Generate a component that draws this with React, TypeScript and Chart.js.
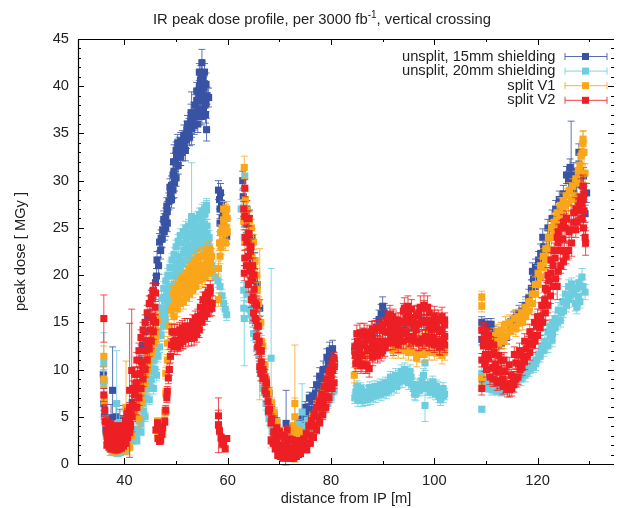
import React, { useEffect, useRef } from "react";
import { Chart, registerables } from "chart.js";

Chart.register(...registerables);

const titleParts = ["IR peak dose profile, per 3000 fb", "-1", ", vertical crossing"];
const xTitle = "distance from IP [m]";
const yTitle = "peak dose [ MGy ]";
const seriesNames = ["unsplit, 15mm shielding", "unsplit, 20mm shielding", "split V1", "split V2"];
const seriesColors = ["#3953a4", "#6dcddf", "#faa61a", "#ed1f24"];
const typicalError = [0.9, 0.7, 0.8, 0.8];

// rows: distance [m], dose [MGy], error [MGy] (error omitted = the series' typical one)
const bluePts = [
[35.9,9.5,.8],[36,8.8,.8],[36,6.4,.7],[36.1,5,.6],[36.4,3.6,.5],[36.7,2.6,.5],[37.1,2.2,.4],[37.4,4.9,1.4],[37.7,7.8,4.6],[38,3,.5],[38.4,5,1.5],[38.7,2,.4],[39.1,4.4,1.4],[39.4,2.2,.4],[39.8,4.8,1.4],[40.2,3.2,.5],[40.6,4.1,.6],[41,5,.6],[41.5,6.5,.7],[42,8,.7],[42.5,9.5,.7],[43,11,.7],[43.5,12.6,.8],[44,14,.8],[44.5,15.5,.8],[45,17,.8],[45.5,18.3,.8],[46,19.2,.8],[46.2,19.9,.8],[46.3,21.6,.9],[46.8,23.5,.9],[47.1,23.9,.9],[47.4,24.8,.9],[47.7,25.6,.9],[48,26.2,.9],[48.3,26.8,1],[48.6,27.8,.9],[48.9,28.6,1],[49.1,29.5,1],[49.4,30.6,1.1],[49.6,31,2.8],[49.9,32,1],[50.1,32.5,1],[50.4,33.3,1.1],[50.6,33.6,1],[50.9,32.6,1],[51.2,34.2,1.1],[51.5,34.8,1.1],[51.8,33.2,1.1],[52.1,35.3,1],[52.5,35.4,1.2],[52.8,36.1,1.1],[53,36.6,2.8],[53.4,37.2,1.1],[53.7,38,1.1],[54,38.5,1.2],[54.3,37.6,1.1],[54.5,40,1.2],[54.7,39.2,1.2],[54.8,41,1.2],[55,41.4,1.2],[55,42.5,1.4],[55.2,38.5,1.1],[55.4,39.8,1.2],[55.6,38,1.1],[55.8,40.2,1.2],[55.9,35.4,1.2],[56.3,38.8,1],[58.2,29,1],[58.4,28,1],[58.5,27,1],[58.6,28.7,1],[58.9,26,.9],[59.2,25.2,.8],[59.5,24.5,.8],[59.8,24.1,.8],[62.9,30,1],[63,28.3,.9],[63.2,26,.9],[63.6,25.4,.9],[64,24.5,.8],[64.4,23,.8],[64.8,21.5,.8],[65.2,19.5,.7],[65.6,17,.7],[66,15,.7],[66.5,12.5,.6],[67,10,.6],[67.5,8.6,.6],[68,7.5,.6],[68.5,6,.5],[69,5,.5],[69.5,4.4,.5],[70,3.4,.4],[70.5,2.6,.4],[71.3,4.3,3.5],[72,2,.4],[72.5,2.4,.4],[73,2.8,.4],[73.5,3,.4],[74,3.5,.4],[74.4,3.7,.4],[74.8,4.2,.5],[75.3,5.2,.5],[75.8,5.8,.5],[76.3,6.6,.6],[77,7.5,.6],[77.5,7.9,.6],[78,8.6,.6],[78.5,9.1,.6],[79,10,.7],[79.5,10.7,.7],[80,11.8,.7],[80.4,11.3,.6],[80.7,10.6,.6],
[84.6,12,.8],[85.2,13,.8],[86,12.6,.8],[87,13.2,.9],[88,13.4,.9],[88.8,14.5,.9],[89.3,15.3,1],[89.7,15.9,1],[90,16.7,1],[90.3,16,1],[90.7,15.6,.9],[91.1,15.2,.9],[91.6,14,.9],[92.1,12.3,.8],[92.6,13.5,.9],[93.4,13.2,.9],[94.2,14.2,.9],[95,15.6,1],[96,14.4,.9],[97,15.7,1],[98,15.2,1],[99,14,.9],[100,14.6,.9],[101,14.2,.9],[102,13.5,.9],
[109.2,15,.6],[109.2,13.2,.6],[109.7,14,.6],[110.2,14.8,.6],[110.7,14.4,.6],[111,14.8,.6],[111.5,14,.6],[112,13,.6],[113,12.8,.6],[114,13.4,.7],[114.8,14.6,.8],[115.4,15.3,.8],[115.8,15.5,.8],[116.4,15.9,.9],[117,16.2,.9],[117.7,16.8,.9],[118.3,17.6,.9],[118.8,18.6,.9],[119.2,19.6,1],[119.6,18.8,1],[120,20.2,1],[120.6,22.3,1],[121.2,23,1],[121.8,22.6,1],[122.3,24,1],[123,25,1],[123.8,25.6,1],[124.5,26.6,1],[125.2,27.5,1],[126,30,1],[126.5,30.5,5.8],[126.9,29,1],[127.5,29.6,1],[128,31,1],[128.6,29.5,1],[129.5,28.7,1],
];
const blueExtra = [
[46.6,21],[47,22.6],[47.3,23.8],[47.7,24.6],[48,25],[48.3,25.5],[47.6,25.9],[48.2,27.3],[48.8,29.3],[49.1,28],[49.4,29],[49.7,29.8],[50,30.3],[49.5,32],[50,33.2],[50.4,31.6],[50.8,32.5],[50.3,34],[50.9,34.2],[51.2,33],[51.6,33.8],[52,34.3],[52.2,36],[52.6,34.6],[53,35.5],[53.3,36.2],[52.9,37.2],[53.5,35.8],[53.8,36.8],[54.2,36],[54,39.5],[54.4,39],[54.6,37.5],[55,36.8],[55.3,37.5],[55.7,37],[54.5,41.5],[55.2,40.8],[55.5,41.5],[55.8,38.2],[56,39],[55,39.6],[54.7,40.6],
[76.5,7.2],[77.2,8.4],[77.8,9.3],[78.5,10],[79.2,11.3],[79.7,12],[80,11],[80.3,12.2],[58.5,25.5],[58.8,27.6],[59.2,26.8],[63.7,27],[64.2,26],[64.7,24],[65.2,21.5],[65.7,19],[66.2,16.5],
[119,20.4],[119.6,20.8],[120.2,21.6],[121,24],[122,25],[122.8,26],[123.5,27],[124.2,28],[125,28.6],[125.6,30.6],[126.3,31.4],[127,31],[128,33],[128.9,30.5],[129.2,26.5],
[73,3.5,.5],[73.8,4.5,.5],[74.5,5,.5],[75,6,.6],[75.8,7,.6],
];

const cyanPts = [
[36,10.7,3.2],[36,8.4,1.6],[36.1,7,.7],[36.3,4.6,.5],[36.5,3,.4],[36.8,2.2,.4],[37.2,1.6,.3],[37.6,1.3,.3],[38,1.2,.3],[38.2,3.4,1.2],[38.5,6.4,5.6],[38.7,1.1,.3],[39,4.4,1.2],[39.2,1.2,.3],[39.6,3.8,1.2],[39.9,1.3,.3],[40.4,1.5,.3],[41,1.9,.3],[41.6,2.5,.4],[42.2,3.1,.4],[42.7,3.6,.4],[43.2,4.3,.4],[43.7,5.6,.5],[44.2,7,.5],[44.8,8.6,.5],[45.2,9.8,.6],[45.7,11,.6],[46.1,12,.6],[46.6,14,.7],[47,15,.7],[47.3,16,.7],[47.8,17.3,.7],[48.2,18,.8],[48.6,18.8,.8],[49.1,19.9,.8],[49.6,20.8,.8],[50,21.3,.8],[50.5,22,.8],[51.1,23.4,.9],[51.6,22.4,.8],[52,23.7,.9],[52.5,23,.8],[53,26.2,5.7],[53.2,24.2,.8],[53.7,24.8,.9],[54.1,23.8,.8],[54.5,25.2,.9],[55,25.8,.9],[55.4,24.6,.9],[55.6,26.5,1],[55.9,26.9,1],[55.9,23.9,.8],[56.3,22.8,.8],[56.7,21.5,.8],[57.1,20.6,.7],[57.6,19.8,.7],[58.1,19.4,.7],[58.5,18.8,.7],[58.9,17.8,.7],[59.2,17,.6],[59.5,16.4,.6],[59.8,15.8,.6],
[62.6,27,1],[63.3,30.5,1.2],[63.2,24,.8],[63.1,18.4,.8],[63.1,16.5,.8],[63.2,15.4,5],[63.8,18,.8],[64.2,16.4,.7],[64.8,15.2,.7],[65.4,13.5,.6],[66,11.5,.6],[66.6,9.5,.6],[67.2,7.6,.5],[67.8,5.6,.5],[68.4,11.2,9.5],[68.4,4.2,.4],[69,3,.4],[69.6,2.2,.3],[70.2,1.7,.3],[71,1.4,.3],[71.8,1.3,.3],[72.6,1.6,.3],[73.4,2.2,.4],[74,2.8,.4],[74.4,5.5,3],[75,3,.4],[75.8,3.7,.4],[76.5,4.1,.4],[77.2,4.8,.5],[78,5.4,.5],[78.7,5.9,.5],[79.4,6.4,.5],[80,7,.5],[80.6,7.8,.5],
[84.6,7,.6],[85,8.2,.6],[85.3,7,.6],[85.7,8,.6],[86.1,6.7,.6],[86.5,7.6,.6],[87,6.8,.6],[87.5,8.1,.6],[88,7.2,.6],[88.5,8.2,.6],[89,7.5,.6],[89.5,8.4,.6],[90,7.6,.6],[90.5,8.6,.6],[91,7.8,.6],[91.5,9.2,.6],[92,8.2,.6],[92.5,9.4,.7],[93,8.6,.6],[93.6,9.8,.7],[94.3,10,.7],[94.8,9.1,.7],[95.3,9.8,.7],[95.8,8.4,.7],[96.2,7.4,.6],[96.7,8.4,.6],[97.2,7.8,.6],[97.6,8.8,.6],[98.2,10.7,.8],[98.2,6.2,1.7],[98.7,8.4,.6],[99.2,7.6,.6],[99.7,8.7,.6],[100.2,7.4,.6],[100.7,8,.7],[101.2,6.8,.6],[101.7,8,.6],[102,7.4,.6],
[109.2,9.6,.6],[109.2,5.8,.3],[109.3,8.4,.5],[109.7,8.8,.5],[110,8.2,.4],[110.6,8,.4],[111.2,7.9,.4],[112,7.7,.4],[113,7.6,.4],[114,7.7,.4],[115,8,.5],[115.6,8.6,.5],[116.4,9.2,.5],[117.2,9.4,.5],[118,9.8,.5],[118.6,10.1,.5],[119.2,10.3,.6],[119.8,11,.6],[120.5,11.4,.6],[121.2,12,.6],[122,12.5,.7],[122.8,13.1,.7],[122.9,15,.7],[123.4,15.4,.7],[124,16.3,.8],[124.6,16,.8],[125.4,18,.8],[126,17.4,.8],[126.8,18.6,.8],[127.3,17,.8],[127.9,17.7,.9],[128.4,18.8,.8],[128.6,19.8,.9],[129.2,18.2,.8],
];
const cyanExtra = [
[44.3,9],[44.8,10.4],[45.2,11.4],[45.6,12.8],[46,14],[46.4,15.5],[46.8,16.5],[47.2,17.6],[47.6,18.6],[48,19.4],[48.4,20],[48.8,20.8],[49.2,21.6],[49.6,22.2],[50,23],[50.4,23.6],[50.8,24.2],[47.9,15.2],[48.4,16.6],[48.9,17.4],[49.3,18.3],[49.8,19],[50.3,19.8],[50.8,20.5],[51.3,21.2],[51.8,21.5],[52.3,21.5],[52.8,21.7],[51.4,24.6],[51.9,25],[52.4,25.2],[53,25.6],[53.5,25.4],[54,26],[54.5,26.4],[55,26.8],[55.5,27],[55.9,27.4],[53.4,22.6],[54,22.8],[54.6,23],[55.2,23.2],[55.7,22.8],[52.2,24.2],[52.8,24.4],[53.2,23.2],[54.3,24.5],[54.8,24.4],
[64.5,15.8],[65,13.8],[65.6,12.2],[66.2,10],[66.8,8],[67.4,6.4],[68,4.8],[68.6,3.4],
[84.8,7.6],[85.2,6.8],[85.6,7.2],[86,7.7],[86.4,6.9],[86.8,7.2],[87.2,7.6],[87.7,7],[88.2,7.7],[88.7,7.2],[89.2,7.8],[89.7,7.4],[90.2,8.2],[90.7,7.6],[91.2,8.4],[91.7,8],[92.2,8.8],[92.7,8.2],[93.2,9.2],[93.8,8.8],[94.2,9.4],[94.6,9.6],[95,8.6],[95.5,9.2],[96,8],[96.4,7.4],[96.9,8],[97.4,8.4],[97.9,9.4],[98.4,8],[98.9,8],[99.4,8.2],[99.9,8],[100.4,8.2],[100.9,7.2],[101.4,7.4],[101.8,7.2],
[110.2,8.8],[110.6,8.4],[111,8],[111.6,8.4],[112.4,8.2],[113.2,8.4],[114,8.2],[114.8,8.4],[115.4,8.4],[116,8.8],[116.8,9],[117.6,9.4],[118.4,10],[119,10.6],[119.6,10.6],[120.2,11.6],[120.8,12.4],[121.4,13],[122,14],[122.4,13.6],[122.4,14.6],[122.9,13.8],[123.4,14.4],[123.9,15],[124.4,15.2],[124.9,17.2],[125,16.2],[125.6,16.8],[126,18.8],[126.3,17.8],[126.6,19],[127,18],[127.6,18.6],[128,19.2],[128.8,18.8],[128.2,17.2],[127.6,16.6],
[42,3.6,.4],[42.4,2.5,.4],[42.8,4.6,.4],[43.2,3.4,.4],[43.6,6.4,.5],[44,5,.5],[44.4,8,.5],[44.8,6.8,.5],[45.2,9,.6],[45.6,8,.6],[45.9,10,.6],[46.2,9.4,.6],[46.5,11.4,.6],[46.8,12.4,.6],[47.1,13.6,.6],[47.5,14.6,.6],[47.8,15.8,.7],[48.2,16.4,.7],[48.4,18.4,.7],[43,6.5,.5],[43.5,7.5,.5],[44,8.6,.5],
[49.5,20],[50,20.4],[50.5,20.8],[51,21.6],[51.5,22.6],[52,22.8],[52.5,22.2],[53,22.6],[53.5,23.6],[54,24],[54.5,23.8],[55,24.4],[55.5,25.4],[56,25.2],[56,24.4],[56.2,23.4],[47.6,15.6],[48.2,16.8],[48.8,18.4],[49.2,18.6],[56.4,24],[56.6,22.6],[56.9,21],
[73.6,4.2,.5],[74.2,4,.5],[74.8,3.8,.5],[75.4,4.6,.5],
];

const orangePts = [
[36,11.4,1.1],[36,9,.8],[36.1,6.6,.7],[36.2,4.6,.5],[36.5,3,.4],[36.8,2.2,.4],[37.2,1.6,.7],[37.7,1.4,.3],[38.2,1.3,.3],[38.7,1.4,.3],[39.2,1.5,.3],[39.7,1.6,.3],[40.3,6,4.9],[40.5,1.7,.7],[41,1.8,.4],[41.5,3,.4],[42.2,5,.5],[42.8,6.5,.5],[43.4,8.6,.6],[44.2,11,.6],[44.8,12.2,.7],[45.3,13.2,.7],[45.8,14.2,.7],[46,15.6,.7],[46.4,4.5,.4],[46.5,3,.4],[47,2.4,.3],[47.4,3.2,.4],[47.8,5.5,.5],[48,7.5,.5],[48,9.6,.6],[48.3,11,.6],[48.3,12.8,.7],[48.6,14.6,.7],[49,16.3,.7],[49.4,16.6,.8],[49.8,17.1,.8],[50.4,17.6,.8],[51.1,18.1,.8],[51.6,18.4,.8],[52.2,19,.8],[52.8,19.5,.8],[53.4,19.9,.8],[54,20.3,.8],[54.5,20.6,.8],[55,20.9,.8],[55.5,21,.8],[56,21.4,.8],[56.4,21.6,.8],[56.9,22,.8],[58.2,20.7,.8],[58.2,17.4,.7],[58.4,23.4,.8],[58.6,24.5,.8],[58.9,25,.9],[59.2,25.8,.9],[59.4,24.4,.9],[59.6,26.6,.9],[59.6,23.4,.8],
[63.2,31.4,1.2],[63.4,28,.9],[63.7,26.9,.9],[63.1,25.7,.9],[63.3,23.5,.8],[64.2,25.8,.9],[64.6,25,.9],[65,23.5,.8],[65.3,21.5,.8],[65.7,18.5,.7],[66.2,14.8,8],[66.5,13,.6],[67,10.5,.6],[67.5,9,.6],[68,7.5,.5],[68.5,6.5,.5],[69,5.5,.5],[69.5,4.4,.4],[70,3.5,.4],[70.5,2.7,.4],[71,2.1,.3],[71.5,1.8,.3],[72,2,.3],[72.5,2.4,.4],[73,6.4,6.2],[73,5,2],[73,3,.4],[73.6,2.4,.4],[74.2,2.5,.4],[75,3,.4],[75.7,4,.4],[76.4,5,.5],[77.2,6.2,.5],[78,7.3,.6],[78.7,8,.6],[79.4,9,.6],[80,9.8,.6],[80.6,10.4,.6],
[84.5,9.4,.8],[84.8,11.2,.8],[85.4,11.8,.8],[86,11.2,.8],[86.8,11.6,.8],[87.6,12,.8],[88.5,12.3,.8],[89.3,12.5,.8],[90.2,12.8,.8],[91,13,.8],[91.7,12.8,.8],[92.4,13.2,.8],[93,12.8,.8],[93.8,12.9,.8],[94.6,13.4,.9],[95.2,12.4,.9],[95.9,13.5,.9],[96.6,11.2,.9],[97.2,12.8,.9],[98,12.2,.9],[98.7,13.8,.9],[99.4,12.6,.9],[100.4,12.3,.9],[101,13,.9],[101.5,11.5,.9],[102,12.4,.8],
[109.2,17.7,.6],[109.2,16.7,.6],[109.2,9.1,.7],[110.5,13.4,.7],[111,13.1,.7],[111.6,12.4,.7],[112.1,13.1,.7],[112.5,12.8,.7],[113,13.6,1.4],[113.5,13,.8],[113.9,13.5,.8],[114.5,14,.8],[115.2,14.5,.8],[115.8,14.3,.8],[116.4,14.9,.8],[117.1,15,.8],[117.7,15.6,.8],[118.3,16.2,.9],[119,17,.9],[119.6,18,.9],[120.1,19,.9],[120.6,19.8,.9],[121.1,20.8,.9],[121.6,21.6,1],[122.1,22.6,1],[122.7,24,1],[123.2,24.8,1],[123.7,25.8,1],[124.3,26.3,1.1],[124.8,26.9,1.2],[125.4,27.3,1.2],[126,27.6,1.2],[126.6,28,1.2],[127.2,28.4,1.2],[127.7,29.8,1.2],[128.2,31.6,1.2],[128.6,32.9,1.2],[128.8,34,1.3],[129.2,30.8,1],[129,33,1.2],
];
const orangeExtra = [
[42.8,4.8],[43.4,6.6],[44,8.4],[44.6,10],[45.2,11.6],[45.8,12.8],[46.2,14],[46.5,15.2],
[49.4,18],[49.9,18.6],[50.4,19],[50.9,19.4],[51.4,19.8],[52,20.2],[52.5,20.6],[53,21],[53.6,21.4],[54.2,21.8],[54.8,22],[55.4,22.2],[56,22.6],[56.5,22.8],[49.6,15.6],[50.2,16.4],[50.8,17],[51.4,17.2],[52,17.6],[52.6,18],[53.2,18.4],[53.8,18.8],[54.4,19.4],[55,19.6],[55.6,19.8],[56.2,20.2],[56.8,20.4],
[58.5,22],[58.7,23],[59,23.6],[59.3,24.6],[59.7,25],[59.9,26],[59.9,24.6],[59.8,27],[59.2,27],
[92,12],[93,12],[94,12],[95,11.8],[96,11.8],[97,11.6],[98,11.6],[99,11.8],[100,11.8],[101,12],[102,11.8],
[111.5,13.6],[112.3,14],[113,14.2],[113.8,14.8],[114.6,15],[115.5,15.4],[116.3,15.6],[117,16],[117.7,16.6],[118.4,17.2],[119,18],[119.6,19],[120.1,20.2],[120.6,21],[121.1,22],[121.6,22.8],[122.1,24],[122.7,25],[123.2,25.6],[123.8,26.6],[124.4,27.4],[125,27.9],[125.6,28.4],[126.2,29],[126.8,29.4],[127.4,30.2],[127.9,31],[128.4,32.6],[128.8,34.4],
[43,7.6,.6],[43.4,8,.6],[43.8,9,.6],[44.2,9.6,.6],[44.5,10.6,.6],[44.8,11.4,.6],[45.2,12.4,.7],[45.6,13.4,.7],[46,13.2,.7],[42.4,6,.5],[42,5.4,.5],
[50,17.8],[50.6,18.2],[51.2,18.6],[51.8,19],[52.4,19.4],[53,20],[53.6,20.4],[54.2,20.8],[54.8,21],[55.4,20.8],[56,20.6],[56.6,21.2],[56.2,21.8],[52.8,18.8],[53.4,19.2],[54,19.6],[54.6,20],[55.2,20.2],
[64.6,22,.8],[65,21,.8],[65.6,20,.7],[66,17,.7],[66.4,15,.7],[66.8,12.5,.6],[67.2,10.5,.6],[67.6,8,.6],[68.3,6,.5],[72,3.5,.4],[72.6,4,.4],[73.4,3.6,.4],[74,3.4,.4],
];

const redPts = [
[36,15.4,2.5],[36,7.3,.7],[36.2,5.7,.6],[36.3,4.5,.5],[36.5,3.4,.5],[36.7,2.7,.4],[36.9,3.6,.5],[37.1,2.2,.4],[37.4,2.8,.4],[37.6,1.8,.3],[37.9,3.3,.5],[38.2,1.7,.3],[38.5,3,.4],[38.8,1.7,.3],[39.1,3.5,.5],[39.4,1.9,.3],[39.7,3.2,.4],[40,2.3,.4],[40.3,3.8,.5],[40.6,3.1,.4],[41,4.2,.5],[41,7.8,7.1],[41.4,9.9,6.5],[41.3,5.2,.5],[41.7,6.2,.6],[42,7.3,.6],[42.3,8.6,.6],[42.6,8,.6],[43,9.6,.7],[43.3,10.8,.7],[43.6,10.2,.7],[44,12,.7],[44.3,13,.7],[44.6,12.6,.7],[45,14.2,.8],[45.3,15.6,.8],[45.6,15.2,.8],[45.9,16.6,.8],[46,18.1,.9],[46.1,3.6,.3],[46.4,4.3,.4],[46.5,2.7,.3],[46.8,2.4,.3],[47,2.6,.4],[47.2,3.2,.4],[47.4,3.9,.4],[47.8,4.5,.4],[48,5.7,.5],[48.2,7,.5],[48.3,7.7,.5],[48.5,9.1,.6],[48.7,10,.6],[48.9,11.4,.7],[49.1,12.6,.7],[49.5,12.9,.7],[49.9,13.1,.7],[50.4,12.6,.7],[50.9,13.5,.7],[51.3,13,.8],[51.8,13.9,.8],[52.3,14,.8],[52.8,13.9,.7],[53.3,14.3,.8],[53.7,14.9,.8],[54.2,14.4,.8],[54.7,15.8,.8],[55.2,16.3,.8],[55.7,17,.8],[56.1,17.6,.8],[56.6,18.2,.8],[56.9,16.5,.8],[58.2,5.1,.6],[58.2,4.1,2.9],[58.4,3.5,.4],[58.7,2.8,.4],[59,2.1,.4],[59.2,2.2,.3],[59.5,1.6,.3],[59.8,2.7,.3],
[63.3,29.2,.9],[63.3,26.2,.9],[63.4,24,.8],[63.3,21.8,.8],[63.7,23.5,.8],[64,22,.8],[64.1,24.4,.8],[64.3,20.5,.8],[64.5,19.4,.7],[64.9,17.7,.7],[65.1,20,.7],[65.3,15.4,.7],[65.6,16.8,.7],[65.6,13.5,.6],[65.9,14.6,.7],[66.2,10.3,.6],[66.5,12,.6],[66.8,9,.5],[67.2,7.8,.5],[67.5,8.6,.5],[67.9,5.6,.4],[68.4,2.5,.4],[68.4,4.4,.4],[68.8,2.2,.3],[69.2,1.6,.3],[69.7,0.9,.2],[70.2,0.8,.2],[70.7,0.6,.2],[71.2,1.6,1.7],[71.7,0.6,.2],[72.3,0.6,.2],[72.8,0.6,.2],[73.3,0.8,.2],[73.7,1,.2],[74.1,1.1,.2],[74.6,1.6,.3],[75,1.9,.3],[75.5,2.2,.3],[76.1,3,.4],[76.8,4,.4],[77.4,5,.5],[78,6,.5],[78.5,6.6,.5],[79,7.2,.5],[79.4,8,.6],[79.7,8.5,.6],[80,9.3,.6],[80.3,9.9,.6],[80.6,10.3,.7],
[84.6,12.4,.8],[84.8,10.6,.8],[85,13.8,.9],[85.3,11.2,.8],[85.6,13.9,1],[85.8,10.4,.8],[86.1,12.8,.9],[86.4,14,.9],[86.7,10.5,.9],[87,13.8,.9],[87.4,10.1,.9],[87.8,14,1.1],[88.1,11.3,.9],[88.5,14.2,1],[88.8,12,.9],[89,13,.9],[89.4,14.5,1],[89.7,11.8,.9],[90,14.2,.9],[90.4,12.3,.9],[90.8,15,1],[91.1,13,.9],[91.4,15.8,1],[91.7,13.5,1],[92.1,15.2,1],[92.4,13.6,1],[92.8,14.6,1],[93.1,13.3,.9],[93.5,15,1],[93.8,13.8,1],[94.2,16.5,1.1],[94.5,14,1],[94.9,16.7,1.1],[95.2,13.5,1],[95.6,16.4,1],[95.9,13.5,1],[96.2,14.5,1],[96.6,15.8,1],[97,13,1],[97.3,16.6,1.2],[97.7,13.2,1],[98,16.8,1.3],[98.3,13.5,1],[98.7,16.6,1.2],[99,13,1],[99.4,15.2,1],[99.7,13.4,1],[100,15.7,1],[100.4,13,1],[100.8,15.3,1],[101.1,12.5,1],[101.5,15.6,1],[101.8,13,1],[102,13.5,1],
[109.2,14.2,.7],[109.2,11,.7],[109.2,8,.7],[109.6,13.2,.7],[109.9,11.6,.7],[110.2,13.6,.7],[110.5,11.2,.7],[110.9,12.8,.7],[111.2,10.2,.7],[111.6,11.8,.7],[112,9.8,.6],[112.5,10,.6],[112.9,11,.6],[113.3,9,.6],[113.7,9.8,.6],[114.1,8.5,.6],[114.5,8.2,.5],[114.9,9.4,.6],[115.3,9.2,.6],[115.8,10.7,.6],[116.3,10.6,.6],[116.8,11.6,.6],[117.3,11.4,.6],[117.8,12.2,.6],[118.3,12.8,.7],[118.8,13.6,.7],[119.3,13.6,.7],[119.8,14.6,.7],[120.2,15.2,.7],[120.6,15.6,.7],[121,16.8,.8],[121.4,17.4,.8],[121.8,18.4,.8],[122.2,19.4,.8],[122.6,20.2,.8],[123,21,.9],[123.4,21.8,.9],[123.8,18.8,1.4],[124,23.4,.9],[124.4,22.6,.9],[124.9,23.8,.9],[125.3,25,1],[125.7,22.6,1],[126.1,24.6,1],[126.6,23.4,1.4],[127,25.6,1],[127.4,27,1.2],[127.7,25.6,1],[128,27.3,1.2],[128.4,28.2,2],[128.6,26,1.1],[128.8,29.4,1.2],[129,26.8,1.2],[129.2,24,1],[129.3,23.4,1.3],
];
const redExtra = [
[36.6,4.5,.4],[37,4,.4],[37.4,4.2,.4],[37.8,3.8,.4],[38.2,3.8,.4],[38.6,4,.4],[39,3.9,.4],[39.4,3.6,.4],[39.8,4,.4],[40.2,4.6,.4],[40.6,5.4,.5],[41,6,.5],[36.6,2,.3],[37,1.8,.3],[37.4,1.6,.3],[37.8,1.6,.3],[38.2,1.5,.3],[38.6,1.5,.3],[39,1.6,.3],[39.4,1.7,.3],[39.8,1.9,.3],[40.2,2.2,.3],[40.6,2.8,.3],[41,3.4,.4],
[37,3,.3],[37.3,3.4,.3],[37.7,2.6,.3],[38,2.5,.3],[38.3,2.8,.3],[38.7,2.5,.3],[39,2.6,.3],[39.3,2.8,.3],[39.7,2.4,.3],[40,3.2,.3],[40.5,4,.4],[40.8,4.8,.4],[41.2,4,.4],[41.5,5,.5],
[41.6,8],[42,9.5],[42.4,11],[42.8,12],[43.2,13.4],[43.6,14.2],[44,15],[44.4,16],[44.8,17],[45.2,17.6],[45.6,18.4],[42.4,6],[42.8,7],[43.2,8],[43.6,9],[44,10],[44.4,11],[44.8,12.2],[45.2,13],[45.6,14],[46,15],
[49.2,14],[49.7,14],[50.2,14],[50.7,14.2],[51.2,14.4],[51.7,14.6],[52.2,14.6],[52.7,14.6],[53.2,15],[53.7,15.4],[54.2,15.6],[54.7,16.6],[55.2,17.4],[55.7,17.9],[56.2,18.2],[56.6,18.6],[49.7,12.4],[50.2,12.4],[50.8,12.8],[51.3,13],[51.8,13.2],[52.4,13.3],[53,13.3],[53.5,13.4],[54,13.7],[54.5,14.2],[55,15],[55.5,15.6],[56,15.9],[56.5,16.4],[57,17],
[64.5,23],[64.8,21],[65.1,18.5],[65.4,17],[65.8,14.6],[66.1,13],[66.5,10.8],[66.8,10],[67.2,9.2],[67.5,7.4],[67.8,6.6,.5],[68.1,5.8,.5],[68.5,4.8,.5],[68.9,3.4,.4],[69.3,2.6,.4],[69.7,1.9,.3],[70.2,1.4,.3],[70.7,1.2,.3],[71.2,.9,.2],[71.7,1,.2],[72.2,1,.2],[72.8,1.2,.2],[73.2,1.3,.2],[73.7,1.6,.3],[74.2,2,.3],[74.7,2.6,.4],[75.2,3.2,.4],[75.7,4,.4],[76.2,4.6,.5],[76.7,5.3,.5],[77.2,6,.5],[77.7,6.7,.5],[78.2,7.4,.5],[78.7,8.2,.6],[79.2,9,.6],[79.7,9.8,.6],[80.2,10.6,.6],[80.6,11.2,.6],
[75.3,1.5,.3],[76,2.2,.3],[76.6,2.8,.3],[77.2,3.6,.4],[77.8,4.4,.4],[78.4,5.2,.5],[79,6,.5],[79.6,7,.5],[80.2,8,.6],[80.6,8.6,.6],[69.5,3.8,.4],[70,3.4,.4],[70.5,3,.4],[71,2.8,.4],[71.5,3.6,.5],[72,2.6,.4],[72.5,2.5,.4],[73,2.3,.4],[73.5,2.4,.4],[74,2.4,.4],
[69,2.4,.3],[69.5,2.2,.3],[70,1.8,.3],[70.5,2,.3],[71,1.8,.3],[71.5,2,.3],[72,1.6,.3],[72.5,1.6,.3],[73,1.6,.3],[73.5,1.6,.3],[74,1.4,.3],[70,.9,.2],
[63.1,27],[63.7,26],[64.1,26],[63.6,21],[64.4,22.6],[64.7,20.2],[64,19],[64.6,17.4],[65,16],[65.5,15.2],[65.8,12.4],[66.2,12],[66.4,9.6],[63.2,20.2],
[85,12.5],[85.5,12],[86,11.5],[86.5,12.5],[87,12],[87.5,12.2],[88,12.6],[88.5,13],[89,12.5],[89.5,13],[90,13],[90.5,14],[91,14],[91.5,14.4],[92,14],[92.5,14.6],[93,14.2],[93.5,14],[94,15],[94.5,15.4],[95,15],[95.5,15],[96,15],[96.5,14.2],[97,14.8],[97.5,15],[98,15],[98.5,15],[99,14.5],[99.5,14.2],[100,14.5],[100.5,14.3],[101,14],[101.5,14.2],[102,14.8],[85.2,13],[86.2,13.6],[87.2,13.2],[84.7,11.5],[85.1,10.9],[86,10.6],[87,10.4],[88,11.6],[89,11.5],[90,12],[91,12.8],[92,12.9],[93,12.6],[94,13],[95,13.2],[96,13],[97,12.8],[98,13],[99,12.8],[100,12.6],[101,12.4],[102,12.6],[88,14.3],[89,14.4],[90,14.7],[91,15.4],[92,15.6],[93,15.2],[94,16.2],[95,16.2],[96,15.5],[97,16],[98,16.5],[99,16],[100,15.5],[101,15.2],[102,15.2],
[109.5,12.5],[109.8,10.6],[110.1,10],[110.5,12.4],[110.8,9.2],[111.1,11.6],[111.4,9],[111.8,10.6],[112.2,8.6],[112.6,8.8],[113,9.8],[113.4,8.2],[113.8,8.4],[114.2,7.9],[114.6,7.9],[115,8],[115.4,8.4],[115.8,9],[116.2,9.2],[116.6,10],[117,10.2],[117.5,10.8],[118,11.4],[118.5,11.8],[119,12.6],[119.5,13],[120,13.6],[120.5,14.4],[121,15],[121.5,16],[122,16.8],[122.5,17.8],[123,18.8],[123.5,19.6],[124,20.4],[124.5,21],[125,21.4],[125.5,22],[126,22.6],[126.5,24.8],[127,26.6],[127.4,24.8],[127.8,26.8],[128.2,27.8],[128.6,27.6],[129,28.6],[128.8,28],[128.9,25],[125.2,22.6],[124,24.6],[124.6,25],[125,25.6],[125.6,26],[122.6,21.6],[123.2,22.6],[123.8,24],[121.5,18.6],[122,20],[120.8,16.8],[120,15.6],[119.4,15],[118.5,14],[117.5,13],[116.5,12],[115.5,11.6],[114.5,10.5],[113.5,11],[112.5,11.5],[111.5,12.6],[110.5,13.6],[110,14],[109.5,14.2],
];

const allSeries = [
  [...bluePts, ...blueExtra],
  [...cyanPts, ...cyanExtra],
  [...orangePts, ...orangeExtra],
  [...redPts, ...redExtra],
];

const font = "Liberation Sans, Arial, sans-serif";
const labelSize = 14.7;

const errorBarsAndFrame = {
  id: "errorBarsAndFrame",
  beforeDatasetDraw(chart: any, args: any) {
    const { ctx, scales } = chart;
    const rows = allSeries[args.index];
    ctx.save();
    ctx.strokeStyle = seriesColors[args.index];
    ctx.lineWidth = 1;
    ctx.globalAlpha = 0.8;
    ctx.beginPath();
    for (const row of rows) {
      const [x, y] = row;
      const e = row[2] ?? typicalError[args.index];
      const px = scales.x.getPixelForValue(x);
      const hi = scales.y.getPixelForValue(y + e);
      const lo = scales.y.getPixelForValue(y - e);
      ctx.moveTo(px, hi);
      ctx.lineTo(px, lo);
      ctx.moveTo(px - 3.5, hi);
      ctx.lineTo(px + 3.5, hi);
      ctx.moveTo(px - 3.5, lo);
      ctx.lineTo(px + 3.5, lo);
    }
    ctx.stroke();
    ctx.restore();
  },
  afterDraw(chart: any) {
    const { ctx, scales, chartArea: a } = chart;
    ctx.save();
    ctx.strokeStyle = "#000";
    ctx.lineWidth = 1.2;
    ctx.beginPath();
    ctx.moveTo(a.left + 0.5, a.top + 0.5);
    ctx.lineTo(a.left + 0.5, a.bottom + 0.5);
    ctx.moveTo(a.left, a.bottom + 0.5);
    ctx.lineTo(a.right, a.bottom + 0.5);
    ctx.moveTo(a.left, a.top + 0.5);
    ctx.lineTo(a.right, a.top + 0.5);
    ctx.stroke();
    ctx.lineWidth = 1;
    ctx.beginPath();
    for (let v = 40; v <= 130; v += 10) {
      const p = Math.round(scales.x.getPixelForValue(v)) + 0.5;
      const len = v % 20 === 0 ? 6 : 3;
      ctx.moveTo(p, a.bottom);
      ctx.lineTo(p, a.bottom - len);
      ctx.moveTo(p, a.top);
      ctx.lineTo(p, a.top + len);
    }
    for (let v = 1; v < 45; v += 1) {
      const p = Math.round(scales.y.getPixelForValue(v)) + 0.5;
      const len = v % 5 === 0 ? 6 : 3;
      ctx.moveTo(a.left, p);
      ctx.lineTo(a.left + len, p);
      ctx.moveTo(a.right, p);
      ctx.lineTo(a.right - len, p);
    }
    ctx.stroke();

    // title with its superscript
    ctx.fillStyle = "#222";
    ctx.textBaseline = "alphabetic";
    ctx.textAlign = "left";
    ctx.font = `14.8px ${font}`;
    let tx = 153;
    ctx.fillText(titleParts[0], tx, 24);
    tx += ctx.measureText(titleParts[0]).width;
    ctx.font = `10px ${font}`;
    ctx.fillText(titleParts[1], tx, 18);
    tx += ctx.measureText(titleParts[1]).width;
    ctx.font = `14.8px ${font}`;
    ctx.fillText(titleParts[2], tx, 24);

    // legend
    ctx.font = `${labelSize}px ${font}`;
    ctx.textBaseline = "middle";
    ctx.textAlign = "right";
    seriesNames.forEach((name, i) => {
      const y = 56.5 + i * 14.6;
      ctx.fillStyle = "#222";
      ctx.fillText(name, 555.5, y);
      ctx.strokeStyle = seriesColors[i];
      ctx.lineWidth = 1;
      ctx.globalAlpha = 0.85;
      ctx.beginPath();
      ctx.moveTo(565, y);
      ctx.lineTo(607, y);
      ctx.moveTo(565, y - 3.5);
      ctx.lineTo(565, y + 3.5);
      ctx.moveTo(607, y - 3.5);
      ctx.lineTo(607, y + 3.5);
      ctx.stroke();
      ctx.globalAlpha = 1;
      ctx.fillStyle = seriesColors[i];
      ctx.fillRect(582, y - 3.5, 7, 7);
    });
    ctx.restore();
  },
};

export default function App() {
  const ref = useRef<HTMLCanvasElement>(null);
  useEffect(() => {
    document.body.style.margin = "0";
    const chart = new Chart(ref.current as HTMLCanvasElement, {
      type: "scatter",
      data: {
        datasets: allSeries.map((rows, i) => ({
          label: seriesNames[i],
          data: rows.map(([x, y]) => ({ x, y })),
          backgroundColor: seriesColors[i],
          borderColor: seriesColors[i],
          borderWidth: 0,
          pointStyle: "rect",
          pointRadius: 5,
          order: allSeries.length - i,
        })),
      },
      plugins: [errorBarsAndFrame],
      options: {
        animation: false,
        responsive: false,
        devicePixelRatio: 1,
        layout: { padding: { top: 39, right: 0, left: 0, bottom: 0 } },
        plugins: { legend: { display: false }, title: { display: false }, tooltip: { enabled: false } },
        scales: {
          x: {
            type: "linear",
            min: 31,
            max: 134.8,
            afterFit: (s: any) => { s.height = 44; },
            grid: { display: false, drawTicks: false },
            border: { display: false },
            ticks: {
              stepSize: 10,
              includeBounds: false,
              autoSkip: false,
              maxRotation: 0,
              padding: 8,
              color: "#222",
              font: { family: font, size: labelSize },
              callback: (v: any) => (Number(v) % 20 === 0 ? String(v) : ""),
            },
            title: { display: true, text: xTitle, color: "#222", font: { family: font, size: labelSize }, padding: { top: 4, bottom: 0 } },
          },
          y: {
            type: "linear",
            min: 0,
            max: 45,
            afterFit: (s: any) => { s.width = 78; },
            grid: { display: false, drawTicks: false },
            border: { display: false },
            ticks: {
              stepSize: 5,
              includeBounds: false,
              autoSkip: false,
              padding: 9,
              color: "#222",
              font: { family: font, size: labelSize },
            },
            title: { display: true, text: yTitle, color: "#222", font: { family: font, size: labelSize }, padding: { top: 12, bottom: 0 } },
          },
        },
      },
    } as any);
    return () => chart.destroy();
  }, []);
  return <canvas ref={ref} width={619} height={508} style={{ display: "block" }} />;
}
